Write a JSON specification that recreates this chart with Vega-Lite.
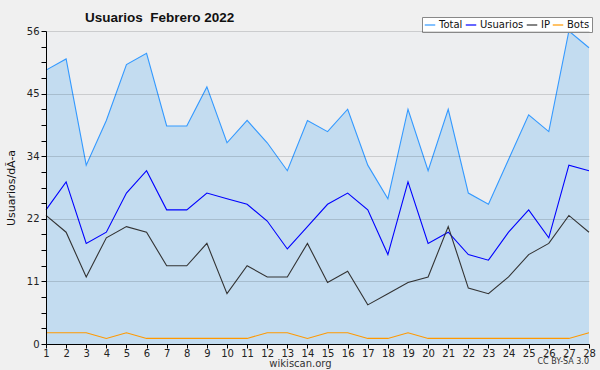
{
  "$schema": "https://vega.github.io/schema/vega-lite/v6.json",
  "width": 543,
  "height": 313,
  "autosize": {"type": "none"},
  "padding": {"left": 46, "top": 31, "right": 11, "bottom": 26},
  "background": "#f0f0f0",
  "config": {
    "view": {"fill": "#edeef0", "stroke": null},
    "font": "DejaVu Sans"
  },
  "title": {
    "text": "Usuarios \u00a0Febrero 2022",
    "anchor": "start",
    "frame": "group",
    "dx": 39,
    "offset": -8,
    "fontSize": 13.5,
    "font": "Liberation Sans",
    "fontWeight": "bold",
    "color": "#111111"
  },
  "datasets": {
    "series": [
      {"day": 1, "serie": "Total", "value": 49}, {"day": 2, "serie": "Total", "value": 51}, {"day": 3, "serie": "Total", "value": 32}, {"day": 4, "serie": "Total", "value": 40},
      {"day": 5, "serie": "Total", "value": 50}, {"day": 6, "serie": "Total", "value": 52}, {"day": 7, "serie": "Total", "value": 39}, {"day": 8, "serie": "Total", "value": 39},
      {"day": 9, "serie": "Total", "value": 46}, {"day": 10, "serie": "Total", "value": 36}, {"day": 11, "serie": "Total", "value": 40}, {"day": 12, "serie": "Total", "value": 36},
      {"day": 13, "serie": "Total", "value": 31}, {"day": 14, "serie": "Total", "value": 40}, {"day": 15, "serie": "Total", "value": 38}, {"day": 16, "serie": "Total", "value": 42},
      {"day": 17, "serie": "Total", "value": 32}, {"day": 18, "serie": "Total", "value": 26}, {"day": 19, "serie": "Total", "value": 42}, {"day": 20, "serie": "Total", "value": 31},
      {"day": 21, "serie": "Total", "value": 42}, {"day": 22, "serie": "Total", "value": 27}, {"day": 23, "serie": "Total", "value": 25}, {"day": 24, "serie": "Total", "value": 33},
      {"day": 25, "serie": "Total", "value": 41}, {"day": 26, "serie": "Total", "value": 38}, {"day": 27, "serie": "Total", "value": 56}, {"day": 28, "serie": "Total", "value": 53},
      {"day": 1, "serie": "Usuarios", "value": 24}, {"day": 2, "serie": "Usuarios", "value": 29}, {"day": 3, "serie": "Usuarios", "value": 18}, {"day": 4, "serie": "Usuarios", "value": 20},
      {"day": 5, "serie": "Usuarios", "value": 27}, {"day": 6, "serie": "Usuarios", "value": 31}, {"day": 7, "serie": "Usuarios", "value": 24}, {"day": 8, "serie": "Usuarios", "value": 24},
      {"day": 9, "serie": "Usuarios", "value": 27}, {"day": 10, "serie": "Usuarios", "value": 26}, {"day": 11, "serie": "Usuarios", "value": 25}, {"day": 12, "serie": "Usuarios", "value": 22},
      {"day": 13, "serie": "Usuarios", "value": 17}, {"day": 14, "serie": "Usuarios", "value": 21}, {"day": 15, "serie": "Usuarios", "value": 25}, {"day": 16, "serie": "Usuarios", "value": 27},
      {"day": 17, "serie": "Usuarios", "value": 24}, {"day": 18, "serie": "Usuarios", "value": 16}, {"day": 19, "serie": "Usuarios", "value": 29}, {"day": 20, "serie": "Usuarios", "value": 18},
      {"day": 21, "serie": "Usuarios", "value": 20}, {"day": 22, "serie": "Usuarios", "value": 16}, {"day": 23, "serie": "Usuarios", "value": 15}, {"day": 24, "serie": "Usuarios", "value": 20},
      {"day": 25, "serie": "Usuarios", "value": 24}, {"day": 26, "serie": "Usuarios", "value": 19}, {"day": 27, "serie": "Usuarios", "value": 32}, {"day": 28, "serie": "Usuarios", "value": 31},
      {"day": 1, "serie": "IP", "value": 23}, {"day": 2, "serie": "IP", "value": 20}, {"day": 3, "serie": "IP", "value": 12}, {"day": 4, "serie": "IP", "value": 19},
      {"day": 5, "serie": "IP", "value": 21}, {"day": 6, "serie": "IP", "value": 20}, {"day": 7, "serie": "IP", "value": 14}, {"day": 8, "serie": "IP", "value": 14},
      {"day": 9, "serie": "IP", "value": 18}, {"day": 10, "serie": "IP", "value": 9}, {"day": 11, "serie": "IP", "value": 14}, {"day": 12, "serie": "IP", "value": 12},
      {"day": 13, "serie": "IP", "value": 12}, {"day": 14, "serie": "IP", "value": 18}, {"day": 15, "serie": "IP", "value": 11}, {"day": 16, "serie": "IP", "value": 13},
      {"day": 17, "serie": "IP", "value": 7}, {"day": 18, "serie": "IP", "value": 9}, {"day": 19, "serie": "IP", "value": 11}, {"day": 20, "serie": "IP", "value": 12},
      {"day": 21, "serie": "IP", "value": 21}, {"day": 22, "serie": "IP", "value": 10}, {"day": 23, "serie": "IP", "value": 9}, {"day": 24, "serie": "IP", "value": 12},
      {"day": 25, "serie": "IP", "value": 16}, {"day": 26, "serie": "IP", "value": 18}, {"day": 27, "serie": "IP", "value": 23}, {"day": 28, "serie": "IP", "value": 20},
      {"day": 1, "serie": "Bots", "value": 2}, {"day": 2, "serie": "Bots", "value": 2}, {"day": 3, "serie": "Bots", "value": 2}, {"day": 4, "serie": "Bots", "value": 1},
      {"day": 5, "serie": "Bots", "value": 2}, {"day": 6, "serie": "Bots", "value": 1}, {"day": 7, "serie": "Bots", "value": 1}, {"day": 8, "serie": "Bots", "value": 1},
      {"day": 9, "serie": "Bots", "value": 1}, {"day": 10, "serie": "Bots", "value": 1}, {"day": 11, "serie": "Bots", "value": 1}, {"day": 12, "serie": "Bots", "value": 2},
      {"day": 13, "serie": "Bots", "value": 2}, {"day": 14, "serie": "Bots", "value": 1}, {"day": 15, "serie": "Bots", "value": 2}, {"day": 16, "serie": "Bots", "value": 2},
      {"day": 17, "serie": "Bots", "value": 1}, {"day": 18, "serie": "Bots", "value": 1}, {"day": 19, "serie": "Bots", "value": 2}, {"day": 20, "serie": "Bots", "value": 1},
      {"day": 21, "serie": "Bots", "value": 1}, {"day": 22, "serie": "Bots", "value": 1}, {"day": 23, "serie": "Bots", "value": 1}, {"day": 24, "serie": "Bots", "value": 1},
      {"day": 25, "serie": "Bots", "value": 1}, {"day": 26, "serie": "Bots", "value": 1}, {"day": 27, "serie": "Bots", "value": 1}, {"day": 28, "serie": "Bots", "value": 2}
    ],
    "credit": [{"day": 28, "value": 0, "label": "CC BY-SA 3.0"}]
  },
  "encoding": {
    "x": {
      "field": "day",
      "type": "quantitative",
      "scale": {"domain": [1, 28], "nice": false, "zero": false},
      "axis": {
        "values": [1,2,3,4,5,6,7,8,9,10,11,12,13,14,15,16,17,18,19,20,21,22,23,24,25,26,27,28],
        "format": "d",
        "grid": false,
        "domainColor": "#000000",
        "tickColor": "#000000",
        "tickSize": 4,
        "labelPadding": 0,
        "labelFontSize": 10,
        "labelColor": "#222222",
        "labelOverlap": false,
        "labelFlush": false,
        "title": "wikiscan.org",
        "titleFontSize": 10,
        "titleFontWeight": "normal",
        "titleColor": "#333333",
        "titlePadding": 0,
        "titleX": 254,
        "titleAlign": "center"
      }
    },
    "y": {
      "field": "value",
      "type": "quantitative",
      "scale": {"domain": [0, 56], "nice": false},
      "axis": {
        "values": [0,2.8,5.6,8.4,11.2,14,16.8,19.6,22.4,25.2,28,30.8,33.6,36.4,39.2,42,44.8,47.6,50.4,53.2,56],
        "labelExpr": "abs(datum.value/11.2 - round(datum.value/11.2)) < 0.01 ? format(round(datum.value), 'd') : ''",
        "labelOverlap": false,
        "labelFontSize": 10,
        "labelColor": "#222222",
        "labelPadding": 2,
        "domainColor": "#000000",
        "tickColor": "#000000",
        "tickSize": 5,
        "grid": true,
        "gridColor": "#000000",
        "gridOpacity": {"condition": {"test": "abs(datum.value/11.2 - round(datum.value/11.2)) < 0.01 && datum.value > 0", "value": 0.14}, "value": 0},
        "zindex": 1,
        "title": "Usuarios/dÃ-a",
        "titleFontSize": 11,
        "titleFontWeight": "normal",
        "titleColor": "#111111",
        "titlePadding": 10
      }
    }
  },
  "layer": [
    {
      "data": {"name": "series"},
      "transform": [{"filter": "datum.serie === 'Total'"}],
      "mark": {"type": "area", "color": "#c3dcf0", "opacity": 1}
    },
    {
      "data": {"name": "series"},
      "mark": {"type": "line", "strokeWidth": 1.1},
      "encoding": {
        "color": {
          "field": "serie",
          "type": "nominal",
          "scale": {"domain": ["Total", "Usuarios", "IP", "Bots"], "range": ["#3399ff", "#0000ff", "#333333", "#ff9900"]},
          "legend": {
            "title": null,
            "orient": "none",
            "legendX": 376,
            "legendY": -14,
            "direction": "horizontal",
            "symbolType": "stroke",
            "symbolSize": 110,
            "symbolStrokeWidth": 1.2,
            "labelFontSize": 10,
            "labelColor": "#111111",
            "labelOffset": 3,
            "columnPadding": 0,
            "padding": 2,
            "fillColor": "#ffffff",
            "strokeColor": "#888888"
          }
        },
        "order": {"field": "day", "type": "quantitative"}
      }
    },
    {
      "data": {"name": "credit"},
      "mark": {"type": "text", "align": "right", "baseline": "middle", "dy": 18, "fontSize": 8, "color": "#333333"},
      "encoding": {
        "text": {"field": "label"}
      }
    }
  ]
}
